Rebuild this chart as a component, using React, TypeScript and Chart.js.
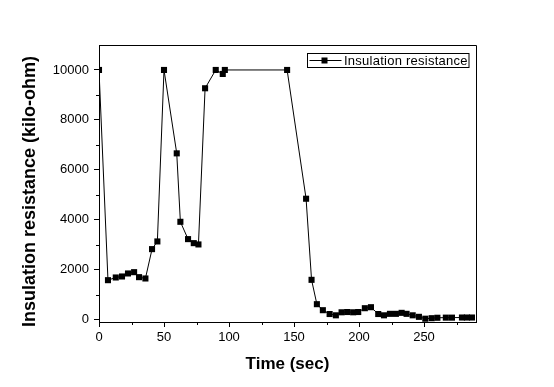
import React, { useEffect, useRef } from "react";
import { Chart, registerables } from "chart.js";

Chart.register(...registerables);

const timeSec: number[] = [
  0, 6.9, 12.9, 17.7, 22.3, 27, 30.8, 35.7, 40.8, 44.9, 50, 59.8, 62.6, 68.5, 72.9, 76.5,
  81.6, 89.8, 95.2, 96.8, 144.7, 159.3, 163.5, 167.6, 172.2, 177.4, 182.2, 186.6, 190.9,
  195.5, 199.4, 204.5, 209.2, 214.8, 219.2, 223.8, 228.4, 232.8, 236.6, 241.3, 246.1, 251,
  255.9, 260.3, 266.8, 271.5, 279.2, 283, 286.9,
];
const resistance: number[] = [
  10000, 1576, 1684, 1724, 1845, 1897, 1697, 1644, 2820, 3128, 10000, 6658, 3915, 3221, 3060,
  3008, 9266, 10000, 9840, 10000, 10000, 4840, 1590, 614, 373, 220, 168, 289, 300, 289, 300,
  453, 493, 220, 168, 227, 227, 267, 227, 168, 107, 32, 53, 70, 75, 75, 80, 80, 80,
];
const xMajorTicks: number[] = [0, 50, 100, 150, 200, 250];
const xMinorTicks: number[] = [25, 75, 125, 175, 225, 275];
const yMajorTicks: number[] = [0, 2000, 4000, 6000, 8000, 10000];
const yMinorTicks: number[] = [1000, 3000, 5000, 7000, 9000];
const seriesLabel = "Insulation resistance";
const xTitle = "Time (sec)";
const yTitle = "Insulation resistance (kilo-ohm)";

const FONT = 'Arial, "Liberation Sans", sans-serif';

const decorPlugin = {
  id: "decor",
  afterDraw(chart: any) {
    const ctx = chart.ctx as CanvasRenderingContext2D;
    const { left, right, top, bottom } = chart.chartArea;
    const xs = chart.scales.x;
    const ys = chart.scales.y;
    ctx.save();
    ctx.strokeStyle = "#000";
    ctx.lineWidth = 1;
    // frame top and right
    ctx.beginPath();
    ctx.moveTo(left, top + 0.5);
    ctx.lineTo(right + 0.5, top + 0.5);
    ctx.lineTo(right + 0.5, bottom);
    ctx.stroke();
    // minor ticks
    ctx.beginPath();
    xMinorTicks.forEach((v) => {
      const px = Math.round(xs.getPixelForValue(v)) + 0.5;
      ctx.moveTo(px, bottom);
      ctx.lineTo(px, bottom + 3);
    });
    yMinorTicks.forEach((v) => {
      const py = Math.round(ys.getPixelForValue(v)) + 0.5;
      ctx.moveTo(left, py);
      ctx.lineTo(left - 3, py);
    });
    ctx.stroke();

    // y title
    ctx.save();
    ctx.translate(30, (top + bottom) / 2 + 8);
    ctx.rotate(-Math.PI / 2);
    ctx.font = `bold 18px ${FONT}`;
    ctx.fillStyle = "#000";
    ctx.textAlign = "center";
    ctx.textBaseline = "middle";
    ctx.fillText(yTitle, 0, 0);
    ctx.restore();

    // legend box
    const bx = right - 168.5;
    const by = top + 8.5;
    const bw = 161.5;
    const bh = 14;
    ctx.strokeRect(bx, by, bw, bh);
    const ly = by + 7;
    ctx.beginPath();
    ctx.moveTo(bx + 2, ly);
    ctx.lineTo(bx + 34, ly);
    ctx.stroke();
    ctx.fillStyle = "#000";
    ctx.fillRect(bx + 14, ly - 3, 6, 6);
    ctx.font = `13px ${FONT}`;
    (ctx as any).letterSpacing = "0.25px";
    ctx.textAlign = "left";
    ctx.textBaseline = "alphabetic";
    ctx.fillText(seriesLabel, bx + 36.5, by + 11.5);
    ctx.restore();
  },
};

export default function App() {
  const canvasRef = useRef<HTMLCanvasElement | null>(null);

  useEffect(() => {
    if (!canvasRef.current) return;
    const chart = new Chart(canvasRef.current, {
      type: "line",
      data: {
        datasets: [
          {
            label: seriesLabel,
            data: timeSec.map((t, i) => ({ x: t, y: resistance[i] })),
            borderColor: "#000",
            backgroundColor: "#000",
            borderWidth: 1,
            tension: 0,
            pointStyle: "rect",
            pointRadius: 4.3,
            pointBorderWidth: 0,
            pointBackgroundColor: "#000",
          },
        ],
      },
      options: {
        animation: false,
        responsive: false,
        devicePixelRatio: 1,
        layout: { padding: { left: 0, top: 45, right: 78, bottom: 0 } },
        plugins: {
          legend: { display: false },
          tooltip: { enabled: false },
        },
        scales: {
          x: {
            type: "linear",
            min: 0,
            max: 290,
            afterBuildTicks: (s: any) => {
              s.ticks = xMajorTicks.map((v) => ({ value: v }));
            },
            afterFit: (s: any) => {
              s.height = 65;
            },
            ticks: {
              color: "#000",
              font: { family: FONT, size: 13 },
              padding: 3,
              maxRotation: 0,
              autoSkip: false,
              callback: (v: any) => String(v),
            },
            grid: {
              drawOnChartArea: false,
              drawTicks: true,
              tickLength: 5,
              color: "#000",
            },
            border: { display: true, color: "#000", width: 1 },
            title: {
              display: true,
              text: xTitle,
              color: "#000",
              font: { family: FONT, size: 17, weight: "bold" },
              padding: { top: 0, bottom: 12 },
            },
          },
          y: {
            type: "linear",
            min: -100,
            max: 11000,
            afterBuildTicks: (s: any) => {
              s.ticks = yMajorTicks.map((v) => ({ value: v }));
            },
            afterFit: (s: any) => {
              s.width = 99;
            },
            ticks: {
              color: "#000",
              font: { family: FONT, size: 13 },
              padding: 5,
              autoSkip: false,
              callback: (v: any) => String(v),
            },
            grid: {
              drawOnChartArea: false,
              drawTicks: true,
              tickLength: 5,
              color: "#000",
            },
            border: { display: true, color: "#000", width: 1 },
          },
        },
      },
      plugins: [decorPlugin],
    });
    return () => chart.destroy();
  }, []);

  return (
    <div style={{ position: "absolute", left: 0, top: 0, width: 554, height: 387, background: "#fff" }}>
      <canvas ref={canvasRef} width={554} height={387} style={{ display: "block" }} />
    </div>
  );
}
